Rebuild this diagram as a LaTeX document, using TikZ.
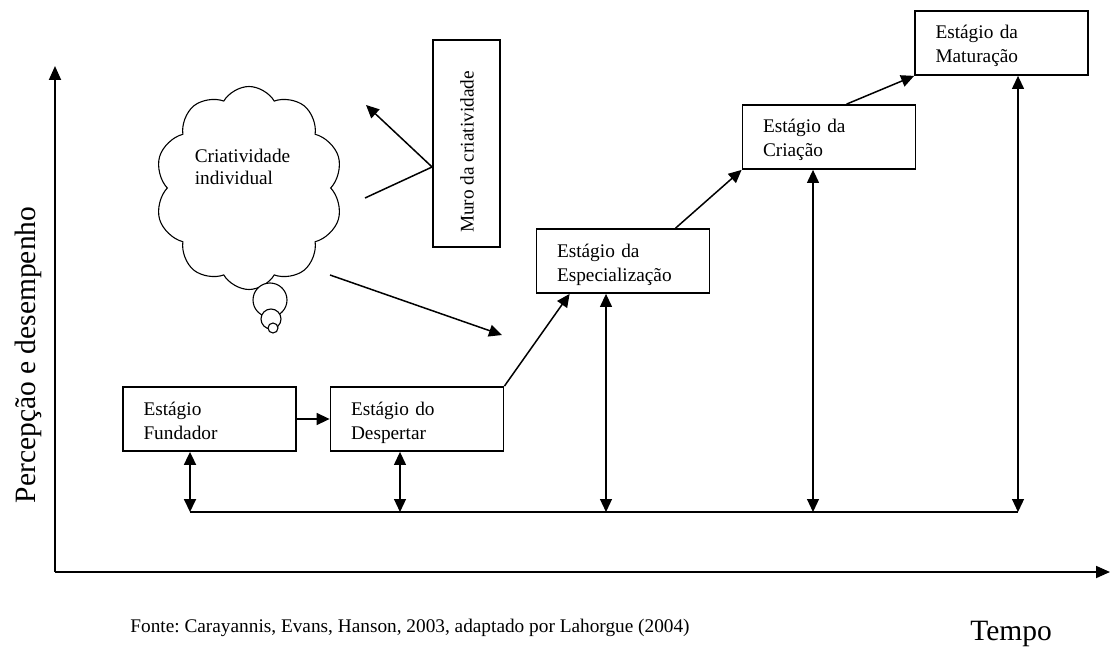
\documentclass[tikz,border=0pt]{standalone}
\usepackage{fontspec}
\setmainfont{Liberation Serif}
\usetikzlibrary{arrows.meta,shapes.symbols,calc}
\newcommand\stagetext[2]{\rule{0pt}{22pt}#1\\#2\rule[-6pt]{0pt}{6pt}}
\frenchspacing
\begin{document}
\begin{tikzpicture}[x=1pt,y=-1pt,
  stagebox/.style={draw,line width=1.8pt,rectangle,inner xsep=20.5pt,inner ysep=0pt,
    text width=132pt,minimum height=64pt,align=left,font=\fontsize{19.3}{24}\selectfont},
  tip/.style={-{Triangle[length=13pt,width=12pt]}},
  conn/.style={line width=1.5pt,tip},
  dconn/.style={line width=#1,{Triangle[length=13pt,width=12pt]}-{Triangle[length=13pt,width=12pt]}},
  axis/.style={line width=1.8pt,-{Triangle[length=14pt,width=12pt]}},
  lbl/.style={inner sep=0pt,font=\fontsize{19.3}{22}\selectfont},
  biglbl/.style={inner sep=0pt,font=\fontsize{29.5}{34}\selectfont},
  bubble/.style={draw,line width=1.1pt,fill=white,circle,inner sep=0pt}
]
\useasboundingbox (0,0) rectangle (1110,647);
\fill[white] (0,0) rectangle (1110,647);

% axes
\coordinate (origin) at (55,572);
\coordinate (ytop) at (55,66);
\coordinate (xend) at (1110,572);
\draw[axis] (origin) -- (ytop);
\draw[axis] (origin) -- (xend);
\node[biglbl,rotate=90] (ylab) at (28,355) {Percepção e desempenho};
\node[biglbl] (xlab) at (1011,634) {Tempo};
\node[lbl] (fonte) at (410,628) {Fonte: Carayannis, Evans, Hanson, 2003, adaptado por Lahorgue (2004)};

% cloud
\node[draw,cloud,cloud puffs=10,cloud puff arc=120,aspect=0.9,line width=1.1pt,
  minimum width=188pt,minimum height=203pt,inner sep=0pt] (cloud) at (249,188) {};
\node[bubble,minimum size=34pt] (b1) at (270,300) {};
\node[bubble,minimum size=20pt] (b2) at (271,319) {};
\node[bubble,minimum size=10pt] (b3) at (273,328) {};
\node[lbl,align=left] (cloudtext) at (242.5,167) {Criatividade\\individual};

% wall
\node[draw,line width=1.8pt,minimum width=67pt,minimum height=207pt,inner sep=0pt] (wall) at (466.5,143.5) {};
\node[lbl,rotate=90] (walltext) at (467,152) {Muro da criatividade};
\coordinate (wp) at ([yshift=-23.5pt]wall.west);
\coordinate (c1) at (365,198);
\coordinate (c2) at (366,105);
\coordinate (c3) at (330,275);
\coordinate (c4) at (502,335);
\draw[line width=1.5pt] (c1) -- (wp);
\draw[conn] (wp) -- (c2);
\draw[conn] (c3) -- (c4);

% stages
\node[stagebox] (F) at (209.5,419) {\stagetext{Estágio}{Fundador}};
\node[stagebox] (D) at (417,419) {\stagetext{Estágio do}{Despertar}};
\node[stagebox] (E) at (623,261) {\stagetext{Estágio da}{Especialização}};
\node[stagebox] (C) at (829,137) {\stagetext{Estágio da}{Criação}};
\node[stagebox] (M) at (1001.5,43) {\stagetext{Estágio da}{Maturação}};

\draw[conn] (F.east) -- (D.west);
\draw[conn] (D.north east) -- ([xshift=34pt]E.south west);
\draw[conn] ([xshift=140pt]E.north west) -- (C.south west);
\draw[conn] ([xshift=105pt]C.north west) -- (M.south west);

% base line
\coordinate (bF) at (190,512);
\coordinate (bD) at (400,512);
\coordinate (bE) at (606,512);
\coordinate (bC) at (813,512);
\coordinate (bM) at (1018,512);
\draw[line width=1.8pt] (bF) -- (bM);
\draw[dconn=1.8pt] (F.south -| bF) -- (bF);
\draw[dconn=1.2pt] (D.south -| bD) -- (bD);
\draw[dconn=1.2pt] (E.south -| bE) -- (bE);
\draw[dconn=1.2pt] (C.south -| bC) -- (bC);
\draw[dconn=1.2pt] (M.south -| bM) -- (bM);
\end{tikzpicture}
\end{document}
